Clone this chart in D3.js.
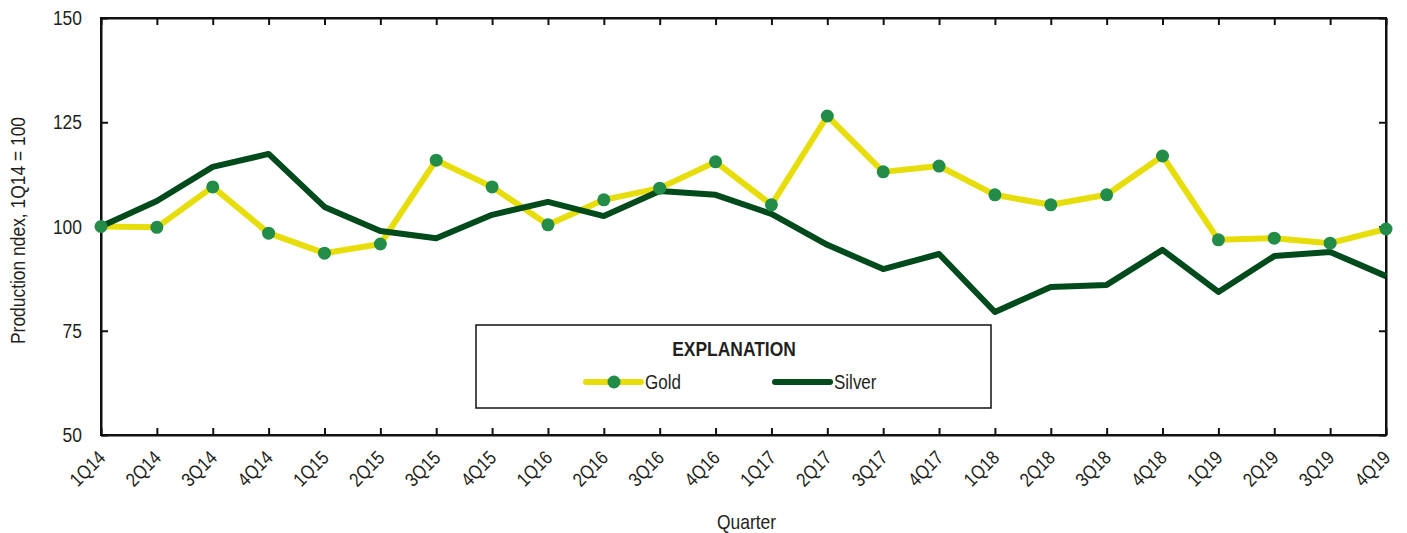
<!DOCTYPE html>
<html>
<head>
<meta charset="utf-8">
<script src="https://cdn.jsdelivr.net/npm/d3@7"></script>
<style>
  body { margin: 0; background: #fff; }
  text { font-family: "Liberation Sans", Arial, sans-serif; fill: #231f20; }
</style>
</head>
<body>
<div id="chart"></div>
<script>
// quarters and production index values
const quarters = ['1Q14','2Q14','3Q14','4Q14','1Q15','2Q15','3Q15','4Q15','1Q16','2Q16','3Q16','4Q16',
  '1Q17','2Q17','3Q17','4Q17','1Q18','2Q18','3Q18','4Q18','1Q19','2Q19','3Q19','4Q19'];
const gold = [100, 99.8, 109.5, 98.4, 93.6, 95.8, 115.9, 109.5, 100.4, 106.4, 109.2, 115.5,
  105.2, 126.5, 113.1, 114.5, 107.6, 105.2, 107.6, 116.9, 96.8, 97.2, 96.0, 99.4];
const silver = [100, 106.1, 114.3, 117.4, 104.7, 98.9, 97.2, 102.8, 105.9, 102.5, 108.5, 107.6,
  103.0, 95.6, 89.8, 93.4, 79.5, 85.5, 86.0, 94.4, 84.3, 92.9, 93.9, 88.1];
const yTicks = [50, 75, 100, 125, 150];

const width = 1407, height = 533;
const margin = { top: 18, right: 21, bottom: 98, left: 101 };
const w = width - margin.left - margin.right;
const h = height - margin.top - margin.bottom;
const narrow = 'scale(0.85,1)';  // squeeze Liberation Sans toward a narrow face
const fs = 20.5;

const svg = d3.select('#chart').append('svg').attr('width', width).attr('height', height);
const g = svg.append('g').attr('transform', `translate(${margin.left},${margin.top})`);

const x = d3.scalePoint().domain(quarters).range([0, w]);
const y = d3.scaleLinear().domain([50, 150]).range([h, 0]);

// frame
g.append('rect').attr('width', w).attr('height', h)
  .attr('fill', 'none').attr('stroke', '#111').attr('stroke-width', 2);

// axes, ticks pointing inward
const bottom = g.append('g').attr('transform', `translate(0,${h})`)
  .call(d3.axisBottom(x).tickSizeInner(-7).tickSizeOuter(0));
bottom.selectAll('text')
  .attr('font-size', 19.5)
  .attr('text-anchor', 'end')
  .attr('x', 0).attr('y', 0).attr('dy', 0)
  .attr('transform', `translate(5,24) rotate(-45) ${narrow}`);

g.append('g').call(d3.axisTop(x).tickSizeInner(-7).tickSizeOuter(0).tickFormat(''));

const left = g.append('g')
  .call(d3.axisLeft(y).tickValues(yTicks).tickSizeInner(-7).tickSizeOuter(0));
left.selectAll('text')
  .attr('font-size', fs)
  .attr('x', 0)
  .attr('transform', `translate(-19,0) ${narrow}`);

g.append('g').attr('transform', `translate(${w},0)`)
  .call(d3.axisRight(y).tickValues(yTicks).tickSizeInner(-7).tickSizeOuter(0).tickFormat(''));

g.selectAll('.domain').attr('stroke', '#111').attr('stroke-width', 2);
g.selectAll('.tick line').attr('stroke', '#111').attr('stroke-width', 2);

// lines
const line = d3.line().x((d, i) => x(quarters[i])).y(d => y(d));

g.append('path').datum(gold).attr('d', line)
  .attr('fill', 'none').attr('stroke', '#e6dd0b').attr('stroke-width', 6).attr('stroke-linejoin', 'round');

g.append('path').datum(silver).attr('d', line)
  .attr('fill', 'none').attr('stroke', '#004a1c').attr('stroke-width', 6).attr('stroke-linejoin', 'round');

g.selectAll('circle.gold').data(gold).enter().append('circle')
  .attr('class', 'gold')
  .attr('cx', (d, i) => x(quarters[i]))
  .attr('cy', d => y(d))
  .attr('r', 6.5)
  .attr('fill', '#238c48');

// axis titles
svg.append('text')
  .attr('transform', `translate(25,${margin.top + h / 2 + 4}) rotate(-90) ${narrow}`)
  .attr('text-anchor', 'middle')
  .attr('font-size', fs)
  .text('Production ndex, 1Q14 = 100');

svg.append('text')
  .attr('transform', `translate(${margin.left + w / 2 + 3},529) ${narrow}`)
  .attr('text-anchor', 'middle')
  .attr('font-size', fs)
  .text('Quarter');

// legend
const lg = svg.append('g').attr('transform', 'translate(476,325)');
lg.append('rect').attr('width', 515).attr('height', 83)
  .attr('fill', '#fff').attr('stroke', '#111').attr('stroke-width', 1.5);
lg.append('text').attr('transform', `translate(258,31) ${narrow}`)
  .attr('text-anchor', 'middle').attr('font-size', fs).attr('font-weight', 'bold')
  .text('EXPLANATION');

lg.append('line').attr('x1', 110).attr('x2', 165).attr('y1', 57).attr('y2', 57)
  .attr('stroke', '#e6dd0b').attr('stroke-width', 6).attr('stroke-linecap', 'round');
lg.append('circle').attr('cx', 138).attr('cy', 57).attr('r', 6.5).attr('fill', '#238c48');
lg.append('text').attr('transform', `translate(169,64) ${narrow}`).attr('font-size', 20).text('Gold');

lg.append('line').attr('x1', 299).attr('x2', 354).attr('y1', 57).attr('y2', 57)
  .attr('stroke', '#004a1c').attr('stroke-width', 6).attr('stroke-linecap', 'round');
lg.append('text').attr('transform', `translate(358,64) ${narrow}`).attr('font-size', 20).text('Silver');
</script>
</body>
</html>
